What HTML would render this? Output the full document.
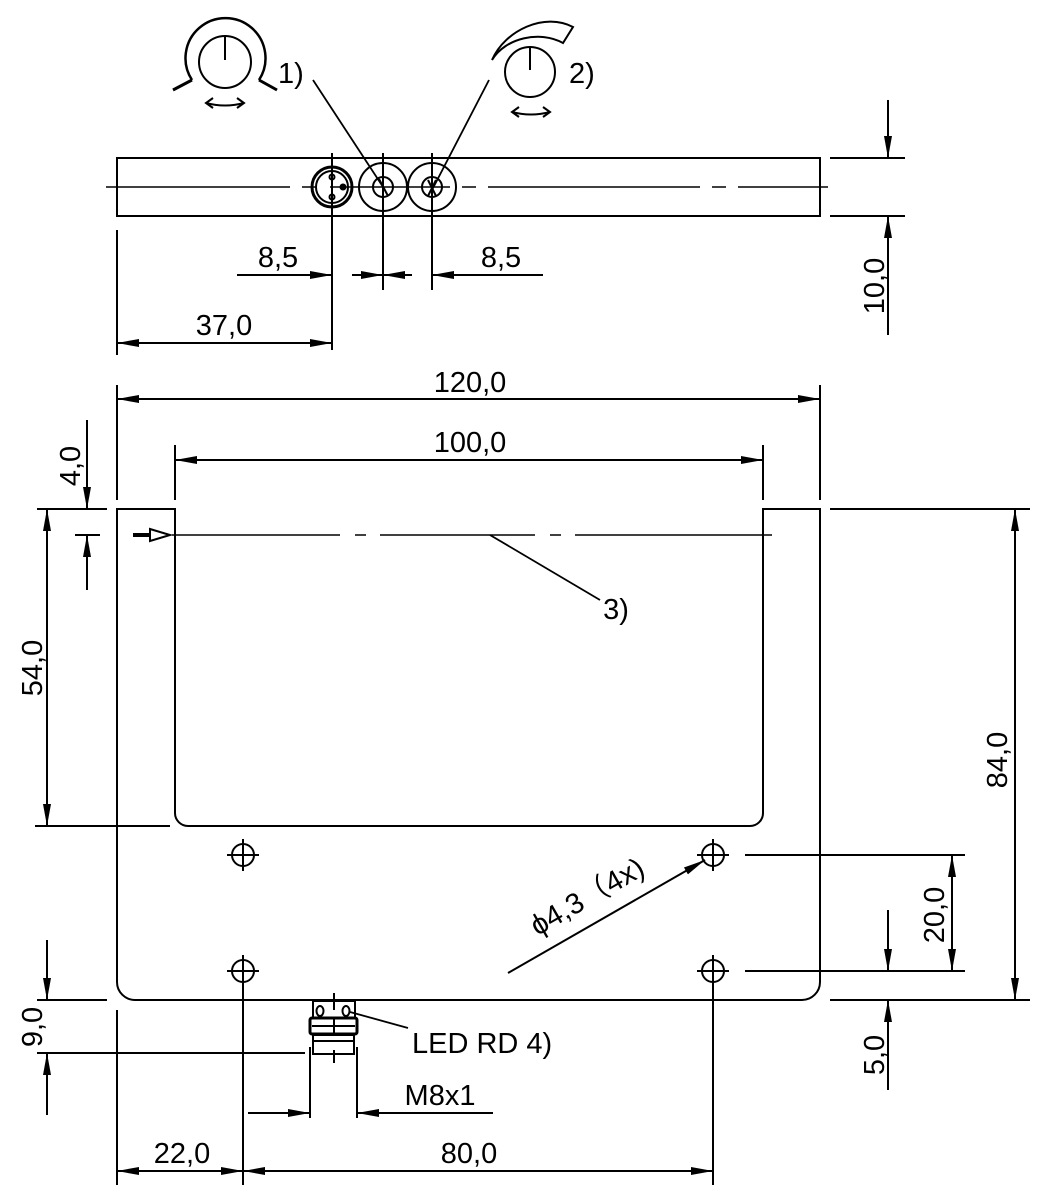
<!DOCTYPE html>
<html><head><meta charset="utf-8"><style>html,body{margin:0;padding:0;background:#fff}svg{display:block}</style></head>
<body>
<svg width="1041" height="1200" viewBox="0 0 1041 1200" xmlns="http://www.w3.org/2000/svg">
<defs>
<marker id="a" viewBox="-22 -5 22 10" refX="0" refY="0" markerWidth="22" markerHeight="10" markerUnits="userSpaceOnUse" orient="auto-start-reverse">
<path d="M0,0 L-22,-4 L-22,4 Z" fill="#000"/></marker>
</defs>
<g fill="none" stroke="#000" stroke-width="2">
<rect x="117" y="158" width="703" height="58"/>
<path d="M106,187H290 M302,187H316 M330,187H450 M462,187H476 M488,187H700 M712,187H726 M738,187H828" stroke-width="1.6"/>
<circle cx="332" cy="187" r="20" stroke-width="3"/>
<circle cx="332" cy="187" r="16"/>
<circle cx="332" cy="177" r="2.5"/><circle cx="332" cy="197" r="2.5"/><circle cx="343" cy="187" r="2.5" fill="#000"/>
<circle cx="383" cy="187" r="24"/><circle cx="383" cy="187" r="10"/>
<circle cx="432" cy="187" r="24"/><circle cx="432" cy="187" r="10"/>
<path d="M332,153V350 M383,153V290 M432,153V290"/>
<path d="M379,179L388,196 M428,180L436,196 M436,180L428,196"/>
<path d="M313,80L385,190 M489,80L432,190" stroke-width="1.8"/>
<circle cx="225" cy="62" r="26"/><path d="M225,37V60"/>
<path d="M192,80 A40,40 0 1 1 259,80" stroke-width="2.5"/>
<path d="M192,80L173,90 M259,80L277,90" stroke-width="3"/>
<path d="M206,103 Q225,108 244,103"/><path d="M213,98L206,103L213,108 M237,98L244,103L237,108"/>
<circle cx="530" cy="72" r="25"/><path d="M530,48V70"/>
<path d="M492,60 C505,30 545,12 573,27 L563,43 C540,30 505,38 492,60Z" stroke-width="2"/>
<path d="M512,112 Q531,117 550,112"/><path d="M519,107L512,112L519,117 M543,107L550,112L543,117"/>
<path d="M237,275H332" marker-end="url(#a)"/>
<path d="M352,275H383" marker-end="url(#a)"/>
<path d="M412,275H383" marker-end="url(#a)"/>
<path d="M543,275H432" marker-end="url(#a)"/>
<path d="M117,230V355"/>
<path d="M117,343H332" marker-start="url(#a)" marker-end="url(#a)"/>
<path d="M830,158H905 M830,216H905"/>
<path d="M888,100V158" marker-end="url(#a)"/>
<path d="M888,335V216" marker-end="url(#a)"/>
<path d="M117,385V500 M820,385V500 M175,445V500 M763,445V500"/>
<path d="M117,399H820" marker-start="url(#a)" marker-end="url(#a)"/>
<path d="M175,460H763" marker-start="url(#a)" marker-end="url(#a)"/>
<path d="M117,509V982 A18,18 0 0 0 135,1000 H802 A18,18 0 0 0 820,982 V509 H763 V813 A13,13 0 0 1 750,826 H188 A13,13 0 0 1 175,813 V509 Z"/>
<path d="M172,535H340 M355,535H366 M380,535H535 M550,535H561 M575,535H772" stroke-width="1.6"/>
<path d="M133,535H150" stroke-width="4"/>
<path d="M150,529L170,535L150,541Z" stroke-width="2"/>
<path d="M490,535L600,600" stroke-width="1.8"/>
<path d="M37,509H107 M35,826H170 M75,535H100"/>
<path d="M47,509V826" marker-start="url(#a)" marker-end="url(#a)"/>
<path d="M87,420V509" marker-end="url(#a)"/>
<path d="M87,590V535" marker-end="url(#a)"/>
<g>
<circle cx="243" cy="855" r="11"/><path d="M227,855H259 M243,839V871"/>
<circle cx="713" cy="855" r="11"/><path d="M697,855H729 M713,839V871"/>
<circle cx="243" cy="971" r="11"/><path d="M227,971H259 M243,955V987"/>
<circle cx="713" cy="971" r="11"/><path d="M697,971H729 M713,955V987"/>
</g>
<path d="M508,973L705,860" marker-end="url(#a)"/>
<path d="M830,509H1030 M830,1000H1030 M745,855H965 M745,971H965"/>
<path d="M1015,509V1000" marker-start="url(#a)" marker-end="url(#a)"/>
<path d="M952,855V971" marker-start="url(#a)" marker-end="url(#a)"/>
<path d="M888,910V971" marker-end="url(#a)"/>
<path d="M888,1090V1000" marker-end="url(#a)"/>
<path d="M37,1000H107 M37,1053H305"/>
<path d="M47,940V1000" marker-end="url(#a)"/>
<path d="M47,1115V1053" marker-end="url(#a)"/>
<rect x="313" y="1001" width="42" height="17"/>
<ellipse cx="320" cy="1011" rx="3.5" ry="5"/><ellipse cx="346" cy="1011" rx="3.5" ry="5"/>
<rect x="310" y="1018" width="47" height="16" rx="2" stroke-width="3"/>
<path d="M312,1026H355"/>
<rect x="313" y="1035" width="41" height="6"/>
<rect x="313" y="1041" width="41" height="13"/>
<path d="M334,993V1010 M334,1018V1034 M334,1050V1063"/>
<path d="M310,1047V1118 M357,1047V1118"/>
<path d="M350,1012L408,1028" stroke-width="1.8"/>
<path d="M248,1113H310" marker-end="url(#a)"/>
<path d="M493,1113H357" marker-end="url(#a)"/>
<path d="M117,1010V1185 M243,985V1185 M713,985V1185"/>
<path d="M117,1171H243" marker-start="url(#a)" marker-end="url(#a)"/>
<path d="M243,1171H713" marker-start="url(#a)" marker-end="url(#a)"/>
</g>
<g font-family="Liberation Sans, sans-serif" font-size="29" fill="#000">
<text x="278" y="83">1)</text>
<text x="569" y="83">2)</text>
<text x="278" y="267" text-anchor="middle">8,5</text>
<text x="501" y="267" text-anchor="middle">8,5</text>
<text x="224" y="335" text-anchor="middle">37,0</text>
<text x="470" y="392" text-anchor="middle">120,0</text>
<text x="470" y="452" text-anchor="middle">100,0</text>
<text x="616" y="619" text-anchor="middle">3)</text>
<text x="412" y="1053">LED RD 4)</text>
<text x="440" y="1105" text-anchor="middle">M8x1</text>
<text x="182" y="1163" text-anchor="middle">22,0</text>
<text x="469" y="1163" text-anchor="middle">80,0</text>
<text transform="translate(884,286) rotate(-90)" text-anchor="middle">10,0</text>
<text transform="translate(80,466) rotate(-90)" text-anchor="middle">4,0</text>
<text transform="translate(42,668) rotate(-90)" text-anchor="middle">54,0</text>
<text transform="translate(42,1027) rotate(-90)" text-anchor="middle">9,0</text>
<text transform="translate(1007,760) rotate(-90)" text-anchor="middle">84,0</text>
<text transform="translate(944,915) rotate(-90)" text-anchor="middle">20,0</text>
<text transform="translate(884,1055) rotate(-90)" text-anchor="middle">5,0</text>
<text transform="translate(592,905) rotate(-29.8)" text-anchor="middle">ϕ4,3（4x)</text>
</g>
</svg>
</body></html>
